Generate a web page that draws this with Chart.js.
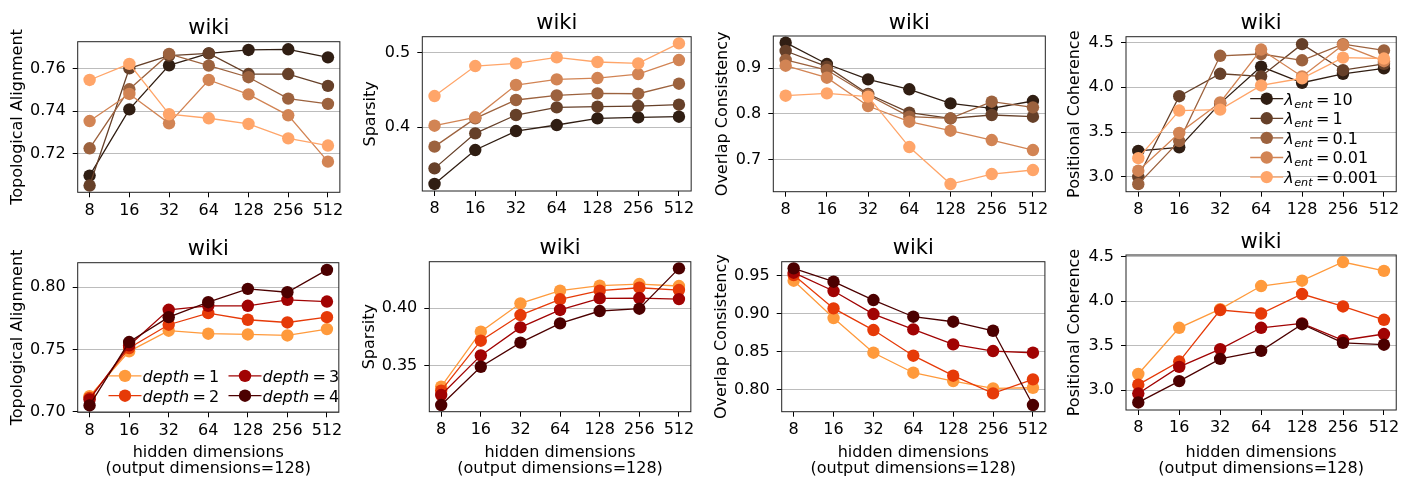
<!DOCTYPE html>
<html><head><meta charset="utf-8">
<script src="https://cdn.jsdelivr.net/npm/chart.js@4.4.0/dist/chart.umd.min.js"></script>
<style>
html,body{margin:0;padding:0;background:#fff;overflow:hidden;width:1404px;height:477px;}
.panel{position:absolute;}
.panel canvas{display:block;}
</style></head><body>
<script>
// ---------- data ----------
const hiddenDims = ['8','16','32','64','128','256','512'];
const lambdaValues = ['10','1','0.1','0.01','0.001'];
const depthValues = ['1','2','3','4'];
const lambdaLabels = lambdaValues.map(v => 'λ_{ent} = ' + v);
const depthLabels = depthValues.map(v => 'depth = ' + v);
const lambdaColors = ['#301e13','#664029','#9c623e','#d28454','#ffa569'];
const depthColors = ['#ff9a3c','#e63a08','#a10303','#4c0000'];

// top row (series order: λ=10, 1, 0.1, 0.01, 0.001)
const topoAlignLambda = [
  [0.7096, 0.7409, 0.7617, 0.7674, 0.7690, 0.7693, 0.7655],
  [0.7049, 0.7603, 0.7663, 0.7674, 0.7576, 0.7576, 0.7520],
  [0.7225, 0.7504, 0.7671, 0.7616, 0.7561, 0.7460, 0.7435],
  [0.7354, 0.7482, 0.7343, 0.7548, 0.7480, 0.7381, 0.7162],
  [0.7548, 0.7624, 0.7386, 0.7367, 0.7340, 0.7272, 0.7238]
];
const sparsityLambda = [
  [0.3237, 0.3692, 0.3946, 0.4027, 0.4116, 0.4129, 0.4138],
  [0.3446, 0.3915, 0.4161, 0.4263, 0.4272, 0.4281, 0.4299],
  [0.3737, 0.4116, 0.4362, 0.4424, 0.4451, 0.4446, 0.4580],
  [0.4018, 0.4130, 0.4563, 0.4638, 0.4656, 0.4710, 0.4897],
  [0.4415, 0.4817, 0.4853, 0.4933, 0.4871, 0.4853, 0.5120]
];
const overlapLambda = [
  [0.9553, 0.9087, 0.8753, 0.8535, 0.8229, 0.8120, 0.8280],
  [0.9371, 0.9029, 0.8433, 0.8025, 0.7900, 0.7975, 0.7938],
  [0.9175, 0.8956, 0.8411, 0.7938, 0.7902, 0.8265, 0.8142],
  [0.9050, 0.8789, 0.8171, 0.7829, 0.7633, 0.7429, 0.7211],
  [0.8396, 0.8447, 0.8375, 0.7276, 0.6469, 0.6687, 0.6775]
];
const positionalLambda = [
  [3.29, 3.33, 3.82, 4.23, 4.05, 4.15, 4.21],
  [3.00, 3.90, 4.15, 4.12, 4.48, 4.19, 4.26],
  [2.92, 3.40, 4.35, 4.37, 4.30, 4.48, 4.41],
  [3.07, 3.49, 3.83, 4.42, 4.12, 4.47, 4.29],
  [3.21, 3.74, 3.75, 4.02, 4.10, 4.33, 4.32]
];
// bottom row (series order: depth=1, 2, 3, 4)
const topoAlignDepth = [
  [0.7125, 0.7485, 0.7651, 0.7627, 0.7621, 0.7613, 0.7664],
  [0.7112, 0.7512, 0.7699, 0.7792, 0.7739, 0.7717, 0.7760],
  [0.7099, 0.7533, 0.7819, 0.7851, 0.7851, 0.7899, 0.7885],
  [0.7051, 0.7560, 0.7760, 0.7880, 0.7987, 0.7960, 0.8139]
];
const sparsityDepth = [
  [0.3314, 0.3794, 0.4041, 0.4151, 0.4195, 0.4209, 0.4192],
  [0.3279, 0.3715, 0.3939, 0.4076, 0.4151, 0.4177, 0.4157],
  [0.3241, 0.3587, 0.3831, 0.3983, 0.4084, 0.4087, 0.4078],
  [0.3154, 0.3488, 0.3698, 0.3866, 0.3974, 0.3994, 0.4346]
];
const overlapDepth = [
  [0.9434, 0.8942, 0.8484, 0.8220, 0.8110, 0.8014, 0.8022],
  [0.9509, 0.9069, 0.8783, 0.8445, 0.8181, 0.7948, 0.8132],
  [0.9540, 0.9298, 0.8994, 0.8792, 0.8594, 0.8506, 0.8484],
  [0.9597, 0.9421, 0.9179, 0.8959, 0.8893, 0.8774, 0.7794]
];
const positionalDepth = [
  [3.18, 3.70, 3.91, 4.17, 4.23, 4.44, 4.34],
  [3.06, 3.32, 3.90, 3.86, 4.08, 3.94, 3.79],
  [2.96, 3.26, 3.46, 3.70, 3.75, 3.56, 3.63],
  [2.86, 3.10, 3.35, 3.44, 3.74, 3.53, 3.51]
];

// tick labels
const ticksTopoTop = ['0.72','0.74','0.76'];
const ticksSparTop = ['0.4','0.5'];
const ticksOverTop = ['0.7','0.8','0.9'];
const ticksPosTop = ['3.0','3.5','4.0','4.5'];
const ticksTopoBot = ['0.70','0.75','0.80'];
const ticksSparBot = ['0.35','0.40'];
const ticksOverBot = ['0.80','0.85','0.90','0.95'];
const ticksPosBot = ['3.0','3.5','4.0','4.5'];

// ---------- rendering ----------
const FONT = '"DejaVu Sans", sans-serif';
const FS = 16;          // tick / label / legend font size
const LH = FS * 1.2;    // line height used by y axis titles
const XLH = 1.02;       // line height factor of the two-line x title
Chart.defaults.font.family = FONT;
Chart.defaults.color = '#000';

function drawMathLabel(ctx, label, x, y) {
  const parts = label.split(' = ');
  const m = parts[0].match(/^(.*?)(?:_\{(.*)\})?$/);
  ctx.fillStyle = '#000';
  ctx.textAlign = 'left';
  ctx.textBaseline = 'alphabetic';
  ctx.font = 'italic ' + FS + 'px ' + FONT;
  ctx.fillText(m[1], x, y);
  x += ctx.measureText(m[1]).width;
  if (m[2]) {
    ctx.font = 'italic ' + (FS * 0.7) + 'px ' + FONT;
    ctx.fillText(m[2], x + 0.5, y + 3);
    x += ctx.measureText(m[2]).width + 0.5;
  }
  ctx.font = FS + 'px ' + FONT;
  x += 3.5;
  ctx.fillText('=', x, y);
  x += ctx.measureText('=').width + 3;
  ctx.fillText(parts[1], x, y);
}

const panelPlugin = {
  id: 'panel',
  afterDatasetsDraw(chart, args, opts) {
    const ctx = chart.ctx, a = chart.chartArea;
    ctx.save();
    const lg = opts.legend;
    if (lg) {
      chart.data.datasets.forEach((ds, i) => {
        const col = Math.floor(i / lg.rows), row = i % lg.rows;
        const cx = a.left + lg.cols[col], cy = a.top + lg.y0 + row * lg.dy;
        ctx.strokeStyle = ds.borderColor;
        ctx.lineWidth = 1.3;
        ctx.beginPath(); ctx.moveTo(cx - 16.5, cy); ctx.lineTo(cx + 16.5, cy); ctx.stroke();
        ctx.fillStyle = ds.borderColor;
        ctx.beginPath(); ctx.arc(cx, cy, 6.2, 0, Math.PI * 2); ctx.fill();
        drawMathLabel(ctx, ds.label, cx + 17.5, cy + 5.8);
      });
    }
    ctx.strokeStyle = '#222';
    ctx.lineWidth = 1;
    ctx.strokeRect(a.left, a.top, a.right - a.left, a.bottom - a.top);
    ctx.fillStyle = '#000';
    ctx.font = '21px ' + FONT;
    ctx.textAlign = 'center';
    ctx.textBaseline = 'alphabetic';
    ctx.fillText(opts.title, (a.left + a.right) / 2, a.top - 7.4);
    ctx.restore();
  }
};

function makePanel(p) {
  const div = document.createElement('div');
  div.className = 'panel';
  const left = Math.round(p.yTitleX - LH / 2);
  const top = Math.round(p.T - 40);
  const W = Math.ceil(p.R + 4 - left);
  const H = p.bottomRow ? (478 - top) : Math.ceil(p.B + 30 - top);
  div.style.left = left + 'px'; div.style.top = top + 'px';
  div.style.width = W + 'px'; div.style.height = H + 'px';
  const cv = document.createElement('canvas');
  div.appendChild(cv);
  document.body.appendChild(div);
  const yW = p.L - left;
  const xH = top + H - p.B;
  const n = p.series.length;
  new Chart(cv, {
    type: 'line',
    data: {
      datasets: p.series.map((vals, i) => ({
        label: p.labels[i],
        data: vals.map((v, j) => ({x: j, y: v})),
        borderColor: p.colors[i],
        backgroundColor: p.colors[i],
        pointBackgroundColor: p.colors[i],
        pointBorderColor: p.colors[i],
        borderWidth: 1.3,
        pointRadius: 6.2,
        pointBorderWidth: 0,
        tension: 0,
        fill: false,
        order: n - i
      }))
    },
    options: {
      responsive: true, maintainAspectRatio: false, animation: false, events: [],
      layout: {padding: {left: 0, top: p.T - top, right: left + W - p.R, bottom: 0}},
      plugins: {
        legend: {display: false}, tooltip: {enabled: false}, title: {display: false},
        panel: {title: 'wiki', legend: p.legend || null}
      },
      scales: {
        x: {
          type: 'linear', min: -0.3, max: 6.3, bounds: 'data',
          afterBuildTicks: s => { s.ticks = hiddenDims.map((_, i) => ({value: i})); },
          afterFit: s => { s.height = xH; },
          ticks: {autoSkip: false, maxRotation: 0, minRotation: 0, padding: 3.5, color: '#000', font: {size: FS},
                  callback: v => hiddenDims[v]},
          grid: {drawOnChartArea: false, drawTicks: true, tickLength: 5, tickColor: '#000', tickWidth: 1},
          border: {display: false},
          title: p.bottomRow
            ? {display: true, text: ['hidden dimensions', '(output dimensions=128)'], font: {size: FS, lineHeight: XLH}, color: '#000', padding: {top: 0, bottom: 0.7}}
            : {display: false}
        },
        y: {
          type: 'linear', min: p.yMin, max: p.yMax, bounds: 'data',
          afterBuildTicks: s => { s.ticks = p.yTicks.map(t => ({value: parseFloat(t)})); },
          afterFit: s => { s.width = yW; },
          ticks: {padding: 7, color: '#000', font: {size: FS}, callback: (v, i) => p.yTicks[i]},
          grid: {color: '#bcbcbc', lineWidth: 1, drawTicks: true, tickLength: 5, tickColor: '#000', tickWidth: 1},
          border: {display: false},
          title: {display: true, text: p.yLabel, font: {size: FS, lineHeight: 1.2}, color: '#000',
                  padding: {top: p.yTitleX - LH / 2 - left, bottom: 0}}
        }
      }
    },
    plugins: [panelPlugin]
  });
}

const panels = [
  {L: 77.7, T: 41.7, R: 343, B: 192.3, yTitleX: 18, yLabel: 'Topological Alignment', yMin: 0.7017, yMax: 0.7729,
   yTicks: ticksTopoTop, series: topoAlignLambda, labels: lambdaLabels, colors: lambdaColors},
  {L: 422.3, T: 36.7, R: 694, B: 191, yTitleX: 370.5, yLabel: 'Sparsity', yMin: 0.3143, yMax: 0.521,
   yTicks: ticksSparTop, series: sparsityLambda, labels: lambdaLabels, colors: lambdaColors},
  {L: 773.3, T: 36, R: 1047.7, B: 191.7, yTitleX: 723, yLabel: 'Overlap Consistency', yMin: 0.6302, yMax: 0.9698,
   yTicks: ticksOverTop, series: overlapLambda, labels: lambdaLabels, colors: lambdaColors},
  {L: 1126, T: 36.7, R: 1399, B: 191.7, yTitleX: 1074.5, yLabel: 'Positional Coherence', yMin: 2.836, yMax: 4.563,
   yTicks: ticksPosTop, series: positionalLambda, labels: lambdaLabels, colors: lambdaColors,
   legend: {rows: 5, cols: [140.7], y0: 62, dy: 19.6}},
  {L: 77.7, T: 262.7, R: 341.7, B: 412.3, yTitleX: 18, yLabel: 'Topological Alignment', yMin: 0.6996, yMax: 0.8197,
   yTicks: ticksTopoBot, series: topoAlignDepth, labels: depthLabels, colors: depthColors, bottomRow: true,
   legend: {rows: 2, cols: [47.3, 167.3], y0: 113.2, dy: 19.8}},
  {L: 429.3, T: 261.7, R: 694, B: 411.7, yTitleX: 369.5, yLabel: 'Sparsity', yMin: 0.3096, yMax: 0.4404,
   yTicks: ticksSparBot, series: sparsityDepth, labels: depthLabels, colors: depthColors, bottomRow: true},
  {L: 781.7, T: 261.7, R: 1047.7, B: 411.7, yTitleX: 721.5, yLabel: 'Overlap Consistency', yMin: 0.7706, yMax: 0.9685,
   yTicks: ticksOverBot, series: overlapDepth, labels: depthLabels, colors: depthColors, bottomRow: true},
  {L: 1126, T: 255, R: 1398.3, B: 410, yTitleX: 1074.5, yLabel: 'Positional Coherence', yMin: 2.775, yMax: 4.519,
   yTicks: ticksPosBot, series: positionalDepth, labels: depthLabels, colors: depthColors, bottomRow: true}
];
panels.forEach(makePanel);
</script>
</body></html>
